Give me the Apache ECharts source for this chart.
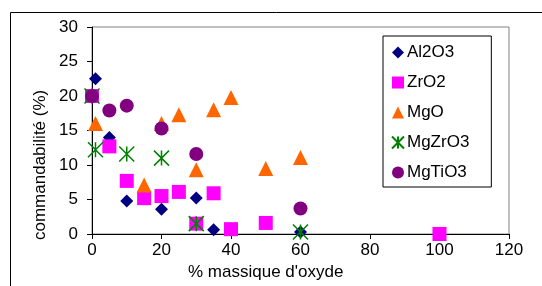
<!DOCTYPE html>
<html>
<head>
<meta charset="utf-8">
<script src="https://cdn.jsdelivr.net/npm/echarts@6/dist/echarts.min.js"></script>
<style>
  html, body { margin: 0; padding: 0; background: #fff; }
  #chart { width: 542px; height: 286px; }
</style>
</head>
<body>
<div id="chart"></div>
<script>
var seriesNames = ['Al2O3', 'ZrO2', 'MgO', 'MgZrO3', 'MgTiO3'];
var al2o3 = [[1, 22.5], [5, 14], [10, 4.8], [20, 3.6], [30, 5.2], [35, 0.6], [60, 0.3]];
var zro2 = [[0, 20], [5, 12.7], [10, 7.7], [15, 5.2], [20, 5.5], [25, 6.1], [30, 1.5], [35, 5.9], [40, 0.7], [50, 1.6], [100, 0]];
var mgo = [[1, 16], [15, 7.1], [20, 16], [25, 17.3], [30, 9.3], [35, 18], [40, 19.8], [50, 9.5], [60, 11.1]];
var mgzro3 = [[0, 20], [1, 12.2], [10, 11.6], [20, 11], [30, 1.5], [60, 0.3]];
var mgtio3 = [[0, 20], [5, 17.9], [10, 18.6], [20, 15.3], [30, 11.6], [60, 3.7]];
var xTicks = [0, 20, 40, 60, 80, 100, 120];
var yTicks = [0, 5, 10, 15, 20, 25, 30];

var font = 'Liberation Sans, Arial, sans-serif';
var asterisk = 'path://M0,0L10,10M10,0L0,10M5,0L5,10';

var chart = echarts.init(document.getElementById('chart'));

var option = {
    backgroundColor: '#fff',
    animation: false,
    textStyle: { fontFamily: font },
    grid: {
        left: 92, top: 27, right: 33, bottom: 52,
        show: true,
        borderColor: '#808080',
        borderWidth: 1
    },
    xAxis: {
        type: 'value',
        min: xTicks[0], max: xTicks[xTicks.length - 1], interval: 20,
        axisLine: { show: true, onZero: false, lineStyle: { color: '#000', width: 1 } },
        axisTick: { show: true, inside: false, length: 5, lineStyle: { color: '#000' } },
        axisLabel: { color: '#000', fontSize: 17, margin: 8, fontFamily: font },
        splitLine: { show: false }
    },
    yAxis: {
        type: 'value',
        min: yTicks[0], max: yTicks[yTicks.length - 1], interval: 5,
        axisLine: { show: true, onZero: false, lineStyle: { color: '#000', width: 1 } },
        axisTick: { show: true, inside: false, length: 5, lineStyle: { color: '#000' } },
        axisLabel: { color: '#000', fontSize: 17, margin: 14, fontFamily: font },
        splitLine: { show: false }
    },
    legend: {
        orient: 'vertical',
        left: 383, top: 36,
        width: 104,
        padding: [8, 22, 6, 8],
        itemWidth: 12, itemHeight: 12,
        itemGap: 13,
        borderColor: '#000', borderWidth: 1,
        textStyle: { color: '#000', fontSize: 17, fontFamily: font, lineHeight: 17, padding: [0, 0, 0, -2] },
        data: seriesNames
    },
    graphic: [
        {
            type: 'rect', silent: true,
            shape: { x: 10.5, y: 12.5, width: 600, height: 400 },
            style: { fill: 'none', stroke: '#000', lineWidth: 1 }
        },
        {
            type: 'text', left: 188, top: 264,
            style: { text: "% massique d'oxyde", fill: '#000', font: '17px ' + font }
        },
        {
            type: 'text', rotation: Math.PI / 2, x: 32, y: 240,
            style: { text: 'commandabilité (%)', fill: '#000', font: '17px ' + font }
        }
    ],
    series: [
        {
            name: seriesNames[0], type: 'scatter', data: al2o3,
            symbol: 'diamond', symbolSize: 13,
            itemStyle: { color: '#000080', opacity: 1 }
        },
        {
            name: seriesNames[1], type: 'scatter', data: zro2,
            symbol: 'rect', symbolSize: 14,
            itemStyle: { color: '#FF00FF', opacity: 1 }
        },
        {
            name: seriesNames[2], type: 'scatter', data: mgo,
            symbol: 'triangle', symbolSize: 15,
            itemStyle: { color: '#FF6600', opacity: 1 }
        },
        {
            name: seriesNames[3], type: 'scatter', data: mgzro3,
            symbol: asterisk, symbolSize: 15,
            itemStyle: { color: 'rgba(0,0,0,0)', borderColor: '#008000', borderWidth: 1.5, opacity: 1 }
        },
        {
            name: seriesNames[4], type: 'scatter', data: mgtio3,
            symbol: 'circle', symbolSize: 14,
            itemStyle: { color: '#800080', opacity: 1 }
        }
    ]
};
chart.setOption(option);
</script>
</body>
</html>
